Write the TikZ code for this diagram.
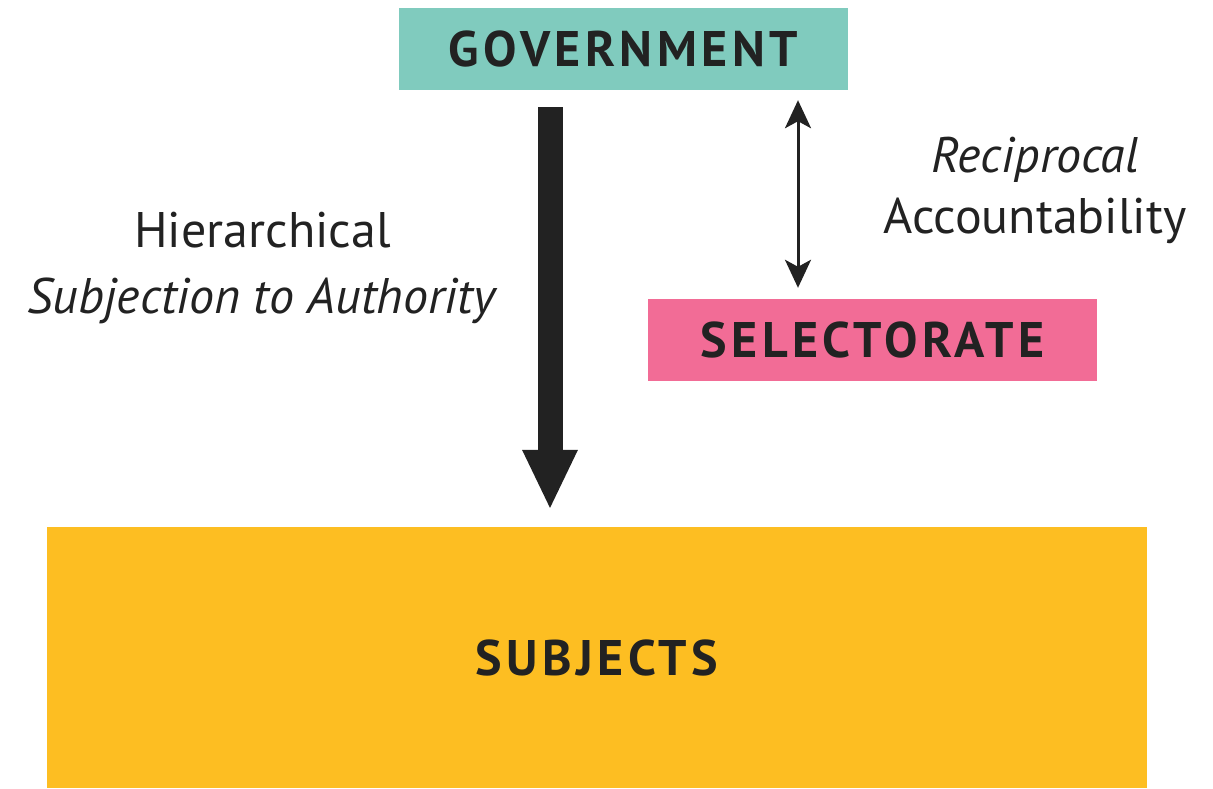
\documentclass[tikz,border=0pt]{standalone}
\usepackage{fontspec}
\setmainfont{PT Sans}
\usepackage{tikz}
\usetikzlibrary{arrows.meta, positioning, calc}
\definecolor{govcolor}{HTML}{80CBBE}
\definecolor{selcolor}{HTML}{F26C96}
\definecolor{subjcolor}{HTML}{FDBE22}
\definecolor{inkcolor}{HTML}{222222}

\tikzset{
    groupbox/.style={rectangle, inner sep=0pt, text=inkcolor,
        font=\fontsize{50}{58}\selectfont\bfseries\addfontfeatures{LetterSpace=9}},
    sidelabel/.style={align=center, text=inkcolor},
    bigarrow/.style={draw=inkcolor, line width=25pt, -{Triangle[length=60pt, width=51pt]}},
    linkarrow/.style={draw=inkcolor, line width=3pt,
        {Stealth[length=28pt, width=26pt, inset=7pt]}-{Stealth[length=28pt, width=26pt, inset=7pt]}}
}

\begin{document}
\begin{tikzpicture}[x=1pt, y=-1pt]
\useasboundingbox (0,0) rectangle (1213,788);

\node[groupbox, fill=govcolor, minimum width=449pt, minimum height=82pt] (gov) at (623.5,49) {GOVERNMENT};
\node[groupbox, fill=selcolor, minimum width=449pt, minimum height=82pt] (sel) at (872.5,340) {SELECTORATE};
\node[groupbox, fill=subjcolor, minimum width=1100pt, minimum height=261pt] (subj) at (597,657.5) {SUBJECTS};

\coordinate (down) at (550,0);
\coordinate (link) at (798,0);
\draw[bigarrow, shorten <=17pt, shorten >=17pt] (gov.south -| down) -- (subj.north -| down);
\draw[linkarrow, shorten <=10pt, shorten >=11pt] (gov.south -| link) -- (sel.north -| link);

\node[sidelabel, font=\fontsize{50}{66}\selectfont] (hier) at (262.5,268) {Hierarchical\\\textit{Subjection to Authority}};
\node[sidelabel, font=\fontsize{50}{61}\selectfont] (recip) at (1035,190) {\textit{Reciprocal}\\Accountability};
\end{tikzpicture}
\end{document}
